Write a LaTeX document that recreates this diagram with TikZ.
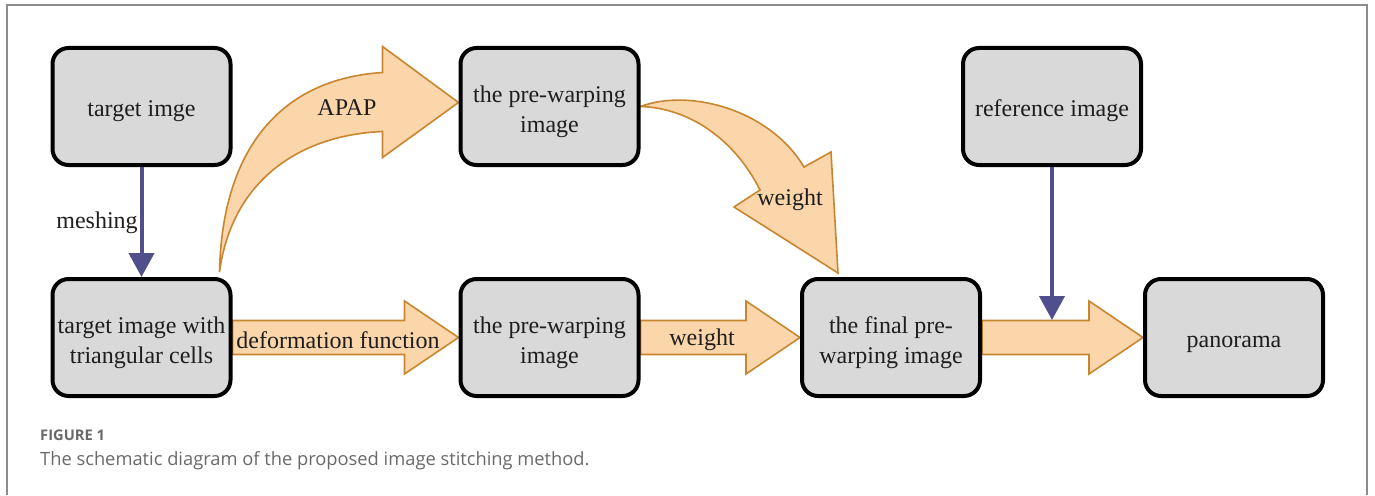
\documentclass[tikz,border=0pt]{standalone}
\usepackage{fontspec}
\setmainfont{Liberation Serif}
\newfontfamily\capfont{Open Sans}
\usetikzlibrary{arrows.meta,calc}
\pgfdeclarelayer{bg}
\pgfsetlayers{bg,main}
\definecolor{boxfill}{RGB}{217,217,217}
\definecolor{peach}{RGB}{250,214,170}
\definecolor{peachline}{RGB}{200,134,48}
\definecolor{slate}{RGB}{80,78,140}
\definecolor{framegray}{RGB}{140,140,140}
\definecolor{capgray}{RGB}{105,105,105}
\definecolor{txt}{RGB}{30,30,30}
\newcommand\liftone{\rule{0pt}{25.5pt}}
\newcommand\lifttwo{\rule{0pt}{28pt}}
\begin{document}
\begin{tikzpicture}[x=1pt,y=-1pt,
  box/.style={draw=black, line width=4pt, fill=boxfill, rounded corners=16pt,
    minimum width=178pt, minimum height=117pt, align=center,
    font=\fontsize{24}{30}\selectfont, text=txt, inner sep=0pt},
  fat/.style={draw=peachline, fill=peach, line width=1.6pt, line join=miter},
  thinarrow/.style={draw=slate, line width=4pt, -{Triangle[width=25pt,length=24pt]}},
  lbl/.style={font=\fontsize{24}{30}\selectfont, text=txt, inner sep=0pt}]
\useasboundingbox (0,0) rectangle (1375,495);
\draw[framegray, line width=2pt] (7,495) -- (7,5) -- (1367,5) -- (1367,495);

\node[box] (t1) at (141.5,106.5) {\liftone target imge};
\node[box] (p1) at (549.5,106.5) {\lifttwo the pre-warping\\image};
\node[box] (r1) at (1052,106.5) {\liftone reference image};
\node[box] (t2) at (141.5,337.5) {\lifttwo target image with\\triangular cells};
\node[box] (p2) at (549.5,337.5) {\lifttwo the pre-warping\\image};
\node[box] (f2) at (891,337.5) {\lifttwo the final pre-\\warping image};
\node[box] (pan) at (1234,337.5) {\liftone panorama};

\begin{pgfonlayer}{bg}
  % straight fat arrows
  \foreach \a/\b in {t2/p2, p2/f2, f2/pan}{
    \draw[fat] let \p1=(\a.east), \p2=(\b.west) in
      (\x1,\y2+17pt) -- (\x2-54pt,\y2+17pt) -- (\x2-54pt,\y2+36.5pt) -- (\p2)
      -- (\x2-54pt,\y2-36.5pt) -- (\x2-54pt,\y2-17pt) -- (\x1,\y2-17pt) -- cycle;
  }
  % APAP curved arrow
  \coordinate (aT) at ($(p1.west)+(0,-4)$);
  \coordinate (aS) at ($(t2.north east)+(-13,-5)$);
  \draw[fat] (aS) .. controls (222,150) and (280,79) .. ($(aT)+(-76,-30)$)
     -- ($(aT)+(-76,-56)$) -- (aT) -- ($(aT)+(-76,55)$) -- ($(aT)+(-76,29)$)
     .. controls (300,135) and (232,180) .. (aS) -- cycle;
  % weight curved arrow
  \coordinate (wT) at ($(f2.north west)+(38,-4)$);
  \draw[fat] (p1.east) .. controls (690,88) and (770,110) .. ($(wT)+(-34,-106)$)
     -- ($(wT)+(-7,-121)$) -- (wT) -- ($(wT)+(-104,-66)$) -- ($(wT)+(-78,-83)$)
     .. controls (735,140) and (690,108) .. (p1.east) -- cycle;
\end{pgfonlayer}

\node[lbl] (lapap) at (347,108) {APAP};
\node[lbl] (lw1) at (790,200) {weight};
\node[lbl] (ldef) at (338,340) {deformation function};
\node[lbl] (lw2) at (702,340) {weight};
\node[lbl] (lmesh) at (97,223) {meshing};

\draw[thinarrow] (t1.south) -- (t2.north);
\path (r1.south) ++(0,153) coordinate (rj);
\draw[thinarrow] (r1.south) -- (rj);

\node[anchor=base west, inner sep=0pt, font=\capfont\fontsize{14.7}{16}\selectfont\bfseries, text=capgray] (fig) at (40,440) {FIGURE 1};
\node[anchor=base west, inner sep=0pt, font=\capfont\fontsize{18.3}{20}\selectfont, text=capgray] (cap) at (40,465) {The schematic diagram of the proposed image stitching method.};
\end{tikzpicture}
\end{document}
